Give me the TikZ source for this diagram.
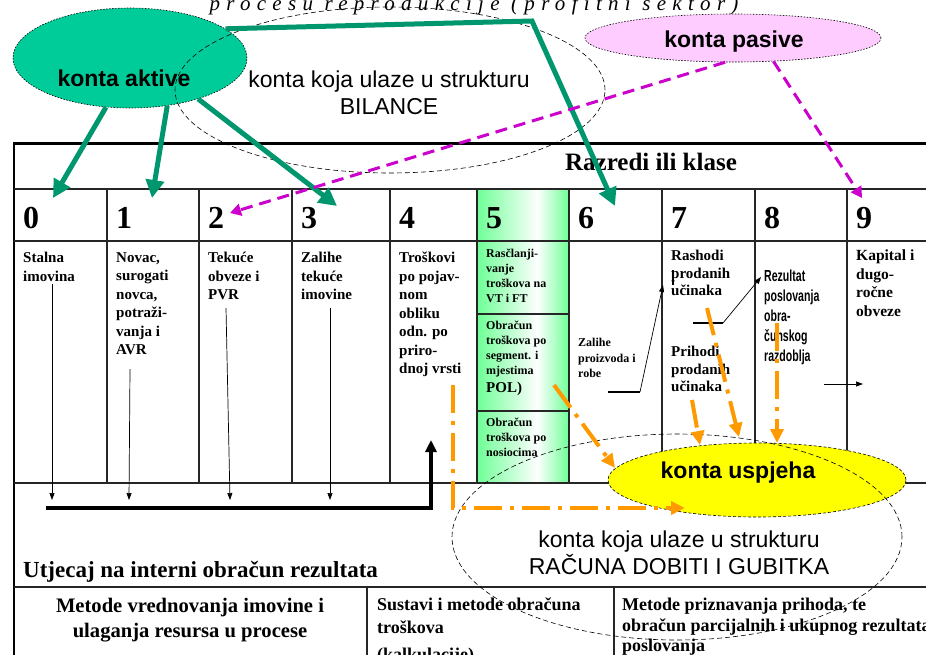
\documentclass[tikz,border=0pt]{standalone}
\usepackage{fontspec}
\usepackage{graphicx}
\setmainfont{Liberation Serif}
\setsansfont{Liberation Sans}
\newfontfamily\spacedserif[LetterSpace=30]{Liberation Serif}
\usetikzlibrary{shapes.geometric, arrows.meta}
\definecolor{aktivfill}{RGB}{0,204,153}
\definecolor{aktivline}{RGB}{0,150,110}
\definecolor{pasivfill}{RGB}{255,204,255}
\definecolor{pasivline}{RGB}{204,0,204}
\definecolor{uspjfill}{RGB}{255,255,0}
\definecolor{uspjline}{RGB}{255,153,0}
\definecolor{klasa5}{RGB}{110,255,150}
\newcommand{\sz}[2]{\fontsize{#1}{#2}\selectfont}
\tikzstyle{cell} = [anchor=north west, inner sep=0pt, align=left, font=\bfseries\sz{15}{18.5}]
\tikzstyle{smallcell} = [cell, font=\bfseries\sz{12}{15}]
\tikzstyle{digit} = [anchor=base west, inner sep=0pt, font=\bfseries\sz{32}{32}]
\tikzstyle{konto} = [draw, ellipse, inner sep=0pt, dash pattern=on 1.5pt off 1.5pt, line width=0.6pt]
\tikzstyle{kontotext} = [inner sep=0pt, font=\sffamily\bfseries\sz{23}{26}]
\tikzstyle{struct} = [draw, ellipse, inner sep=0pt, dash pattern=on 5pt off 3pt, line width=0.6pt]
\tikzstyle{structtext} = [inner sep=0pt, align=center, font=\sffamily\sz{23}{27}]
\tikzstyle{gridline} = [draw=black!85, line width=1.3pt]
\tikzstyle{aktivarrow} = [draw=aktivline, line width=5pt, -{Triangle[length=18pt,width=18pt]}]
\tikzstyle{pasivarrow} = [draw=pasivline, line width=3pt, dash pattern=on 12pt off 7pt, -{Triangle[length=11pt,width=12pt]}]
\tikzstyle{uspjarrow} = [draw=uspjline, line width=4pt, dash pattern=on 28pt off 8pt on 4pt off 8pt, -{Triangle[length=14pt,width=13pt]}]
\tikzstyle{flowarrow} = [draw, line width=0.7pt, -{Triangle[length=7pt,width=5pt]}]

\begin{document}
\begin{tikzpicture}[x=1pt, y=-1pt, >=latex]
  \useasboundingbox (0,0) rectangle (926,654);
  \fill[white] (0,0) rectangle (926,654);

  \shade[left color=klasa5, right color=white] (477,189) rectangle (538,483);
  \shade[left color=white, right color=klasa5] (537,189) rectangle (569,483);
  \draw[line width=3pt] (14,143) -- (935,143);
  \draw[line width=2.5pt] (14,142) -- (14,660);
  \foreach \y in {189,241,483,587}
    \draw[gridline] (14,\y) -- (935,\y);
  \foreach \x in {107,199,292,390,477,569,662,755,847}
    \draw[gridline] (\x,189) -- (\x,483);
  \draw[gridline] (477,314) -- (569,314) (477,411) -- (569,411);
  \draw[gridline] (367,587) -- (367,660) (614,587) -- (614,660);

  \node[anchor=base, inner sep=0pt, font=\spacedserif\itshape\sz{21}{21}] (naslov) at (474,10) {procesu reprodukcije (profitni sektor)};
  \node[font=\bfseries\sz{25}{25}] (razredi) at (651,162) {Razredi ili klase};
  \foreach \i/\x in {0/14,1/107,2/199,3/292,4/390,5/477,6/569,7/662,8/755,9/847}
    \node[digit] (n\i) at (\x+9,228) {\i};

  \node[cell] (stalna) at (23,252) {Stalna\\imovina};
  \node[cell] (novac) at (116,252) {Novac,\\surogati\\novca,\\potraži-\\vanja i\\AVR};
  \node[cell] (tekuce) at (208,252) {Tekuće\\obveze i\\PVR};
  \node[cell] (zalihe) at (301,252) {Zalihe\\tekuće\\imovine};
  \node[cell] (troskovi) at (399,252) {Troškovi\\po pojav-\\nom\\obliku\\odn. po\\priro-\\dnoj vrsti};
  \node[smallcell] (rascl) at (486,249) {Rasčlanji-\\vanje\\troškova na\\VT i FT};
  \node[smallcell] (segment) at (486,321) {Obračun\\troškova po\\segment. i\\mjestima\\[3pt]{\sz{15}{15}POL)}};
  \node[smallcell] (nosioci) at (486,418) {Obračun\\troškova po\\nosiocima};
  \node[smallcell, font=\bfseries\sz{12}{15.5}] (proizvodi) at (578,338) {Zalihe\\proizvoda i\\robe};
  \node[cell, font=\bfseries\sz{15}{17.5}] (rashodi) at (671,250) {Rashodi\\prodanih\\učinaka};
  \node[cell, font=\bfseries\sz{15}{17.5}] (prihodi) at (671,346) {Prihodi\\prodanih\\učinaka};
  \node[anchor=north west, inner sep=0pt, font=\sffamily\bfseries\sz{16}{20}] (rezultat) at (764,267)
    {\scalebox{0.66}[1]{\begin{tabular}{@{}l@{}}Rezultat\\poslovanja\\obra-\\čunskog\\razdoblja\end{tabular}}};
  \node[cell, font=\bfseries\sz{15.5}{18.5}] (kapital) at (856,250) {Kapital i\\dugo-\\ročne\\obveze};

  \node[anchor=base west, inner sep=0pt, font=\bfseries\sz{23}{23}] (utjecaj) at (23,577) {Utjecaj na interni obračun rezultata};
  \node[anchor=north, align=center, inner sep=0pt, font=\bfseries\sz{20.6}{25}] (vrednovanje) at (190,598) {Metode vrednovanja imovine i\\ulaganja resursa u procese};
  \node[cell, font=\bfseries\sz{18}{23}] (sustavi) at (377,598) {Sustavi i metode obračuna\\troškova\\[4pt](kalkulacije)};
  \node[cell, font=\bfseries\sz{18}{20.5}] (priznavanje) at (622,598) {Metode priznavanja prihoda, te\\obračun parcijalnih i ukupnog rezultata\\poslovanja};

  \node[konto, fill=aktivfill, minimum width=234pt, minimum height=100pt] (aktive) at (130,58) {};
  \node[kontotext] (aktivetxt) at (124,78) {konta aktive};
  \node[konto, fill=pasivfill, minimum width=296pt, minimum height=48pt] (pasive) at (733,38) {};
  \node[kontotext] (pasivetxt) at (734,42) {konta pasive};
  \node[struct, minimum width=430pt, minimum height=166pt] (bilanca) at (390,90) {};
  \node[structtext] (bilancatxt) at (389,93) {konta koja ulaze u strukturu\\BILANCE};
  \node[konto, dash pattern=on 3pt off 2pt, fill=uspjfill, minimum width=298pt, minimum height=74pt] (uspjeh) at (757,480) {};
  \node[kontotext] (uspjehtxt) at (738,473) {konta uspjeha};
  \node[struct, minimum width=450pt, minimum height=206pt] (rdg) at (677,537) {};
  \node[structtext] (rdgtxt) at (679,553) {konta koja ulaze u strukturu\\RAČUNA DOBITI I GUBITKA};

  \coordinate (t0) at (53,198);
  \coordinate (t1) at (152,198);
  \coordinate (t3) at (337,206);
  \coordinate (knee) at (532,21);
  \coordinate (t6) at (615,206);
  \coordinate (t2) at (230,213);
  \coordinate (t9) at (862,198);
  \draw[aktivarrow] (aktive.244) -- (t0);
  \draw[aktivarrow] (aktive.308) -- (t1);
  \draw[aktivarrow] (aktive.329) -- (t3);
  \draw[aktivarrow] (aktive.17) -- (knee) -- (t6);
  \draw[pasivarrow] (pasive.252) -- (t2);
  \draw[pasivarrow] (pasive.330) -- (t9);

  \coordinate (s0) at (52,284);  \coordinate (e0) at (52,500);
  \coordinate (s1) at (130,369); \coordinate (e1) at (129,500);
  \coordinate (s2) at (226,308); \coordinate (e2) at (230,500);
  \coordinate (s3) at (330,308); \coordinate (e3) at (330,500);
  \foreach \i in {0,...,3}
    \draw[flowarrow] (s\i) -- (e\i);
  \coordinate (sumL) at (46,508);
  \coordinate (sumR) at (431,508);
  \coordinate (sumT) at (431,440);
  \draw[line width=3.5pt, -{Triangle[length=12pt,width=11pt]}] (sumL) -- (sumR) -- (sumT);

  \coordinate (z6a) at (608,392); \coordinate (z6b) at (640,392); \coordinate (r7) at (663,285);
  \draw[line width=2pt] (z6a) -- (z6b);
  \draw[flowarrow] (z6b) -- (r7);
  \coordinate (cur1) at (673,270); \coordinate (cur2) at (673,285);
  \draw[line width=2pt] (cur1) -- (cur2);
  \coordinate (p7a) at (693,323); \coordinate (p7b) at (723,323); \coordinate (r8) at (761,277);
  \draw[line width=2pt] (p7a) -- (p7b);
  \draw[flowarrow] (p7b) -- (r8);
  \coordinate (k8) at (824,384); \coordinate (k9) at (863,384);
  \draw[flowarrow] (k8) -- (k9);

  \coordinate (o1a) at (554,385); \coordinate (o1b) at (615,468);
  \coordinate (o2a) at (707,308); \coordinate (o2b) at (739,437);
  \coordinate (o3a) at (692,400); \coordinate (o3b) at (700,445);
  \coordinate (o4a) at (777,323); \coordinate (o4b) at (777,443);
  \coordinate (o5a) at (453,385); \coordinate (o5k) at (453,508); \coordinate (o5b) at (685,508);
  \draw[uspjarrow] (o1a) -- (o1b);
  \draw[uspjarrow] (o2a) -- (o2b);
  \draw[uspjarrow] (o3a) -- (o3b);
  \draw[uspjarrow] (o4a) -- (o4b);
  \draw[uspjarrow] (o5a) -- (o5k) -- (o5b);
\end{tikzpicture}
\end{document}
